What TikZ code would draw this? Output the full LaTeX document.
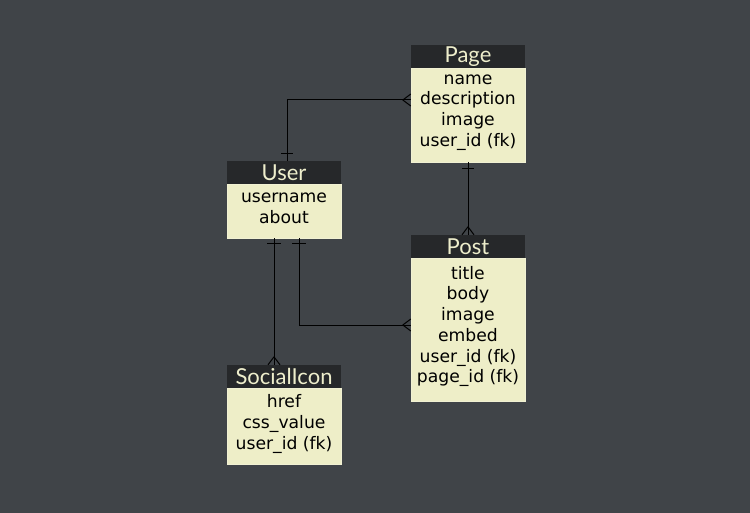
\documentclass[tikz,border=0pt]{standalone}
\usepackage{fontspec}
\setmainfont{DejaVu Sans}
\newfontfamily\headfont{Lato}
\usetikzlibrary{calc}
\definecolor{bg}{HTML}{404448}
\definecolor{boxfill}{HTML}{EEEEC8}
\definecolor{headfill}{HTML}{26282A}
\definecolor{headtext}{HTML}{EEEECC}
\tikzset{
  head/.style={fill=headfill, text=headtext, minimum width=114pt, minimum height=23pt, inner sep=0pt,
    font=\headfont\fontsize{22}{22}\selectfont},
  tbody/.style={fill=boxfill, draw=boxfill!80!white, line width=0.5pt, minimum width=114pt, inner sep=0pt},
  btext/.style={align=center, inner sep=0pt, text=black, font=\fontsize{17.2}{20.7}\selectfont},
  link/.style={draw=black, line width=1pt},
  tick/.style={draw=black, line width=1pt}
}
\begin{document}
\begin{tikzpicture}[x=1pt,y=-1pt]
\fill[bg] (0,0) rectangle (750,513);
\useasboundingbox (0,0) rectangle (750,513);

% Page
\node[tbody, minimum height=94pt] (pageb) at (468,115) {};
\node[head] (page) at (468,56.5) {Page};
\node[btext] (paget) at (468,112.5) {name\\description\\image\\user\_id (fk)};

% User
\node[tbody, minimum height=54pt] (userb) at (284,211) {};
\node[head] (user) at (284,172.5) {User};
\node[btext] (usert) at (284,208.5) {username\\about};

% Post
\node[tbody, minimum height=143pt] (postb) at (468,329.5) {};
\node[head] (post) at (468,246.5) {Post};
\node[btext] (postt) at (468,326.5) {title\\body\\image\\embed\\user\_id (fk)\\page\_id (fk)};

% SocialIcon
\node[tbody, minimum height=76pt] (socialb) at (284,426) {};
\node[head] (social) at (284,376.5) {SocialIcon};
\node[btext] (socialt) at (284,424) {href\\css\_value\\user\_id (fk)};

% User -- Page
\coordinate (a1) at ($(user.north)+(3,0)$);
\coordinate (a2) at (pageb.west |- 0,100);
\draw[link] (a1) |- (a2);
\draw[tick] ($(a1)+(-6,-7)$) -- ($(a1)+(6,-7)$);
\draw[tick] ($(a2)+(-8,0)$) -- ($(a2)+(0,-6)$);
\draw[tick] ($(a2)+(-8,0)$) -- ($(a2)+(0,6)$);

% Page -- Post
\coordinate (b1) at (pageb.south);
\coordinate (b2) at (post.north);
\draw[link] (b1) -- (b2);
\draw[tick] ($(b1)+(-6,6)$) -- ($(b1)+(6,6)$);
\draw[tick] ($(b2)+(0,-8)$) -- ($(b2)+(-6,0)$);
\draw[tick] ($(b2)+(0,-8)$) -- ($(b2)+(6,0)$);

% User -- SocialIcon
\coordinate (c1) at ($(userb.south)+(-10,0)$);
\coordinate (c2) at (social.north -| c1);
\draw[link] (c1) -- (c2);
\draw[tick] ($(c1)+(-7,5)$) -- ($(c1)+(7,5)$);
\draw[tick] ($(c2)+(0,-8)$) -- ($(c2)+(-6,0)$);
\draw[tick] ($(c2)+(0,-8)$) -- ($(c2)+(6,0)$);

% User -- Post
\coordinate (d1) at ($(userb.south)+(15,0)$);
\coordinate (d2) at (postb.west |- 0,325);
\draw[link] (d1) |- (d2);
\draw[tick] ($(d1)+(-7,5)$) -- ($(d1)+(7,5)$);
\draw[tick] ($(d2)+(-8,0)$) -- ($(d2)+(0,-6)$);
\draw[tick] ($(d2)+(-8,0)$) -- ($(d2)+(0,6)$);
\end{tikzpicture}
\end{document}
